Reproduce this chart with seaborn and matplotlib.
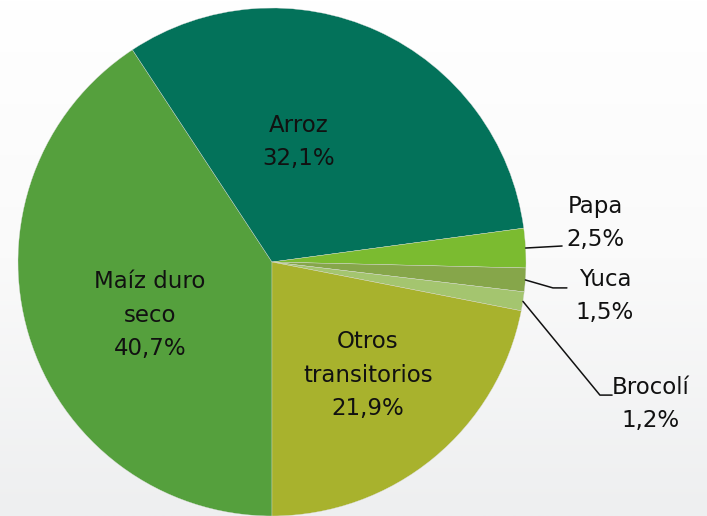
import numpy as np
import matplotlib
matplotlib.use("Agg")
import matplotlib.pyplot as plt
import seaborn as sns

# datos del gráfico
cultivos = ["Maíz duro\nseco", "Arroz", "Papa", "Yuca", "Brocolí", "Otros\ntransitorios"]
porcentajes = [40.7, 32.1, 2.5, 1.5, 1.2, 21.9]
colores = ["#55A03D", "#03725A", "#7BBB30", "#86A64A", "#A4C56F", "#A8B22D"]

sns.set_theme(style="white")
plt.rcParams["font.family"] = ["DejaVu Sans"]

fig = plt.figure(figsize=(7.07, 5.16), dpi=100)

# fondo degradado
bg = fig.add_axes([0, 0, 1, 1])
grad = np.linspace(0, 1, 256).reshape(-1, 1)
bg.imshow(grad, aspect="auto", cmap=matplotlib.colors.LinearSegmentedColormap.from_list(
    "bg", ["#FFFFFF", "#FAFAFA", "#EEEFF0"]), extent=[0, 1, 0, 1])
bg.axis("off")

ax = fig.add_axes([18 / 707, 0, 508 / 707, 508 / 516])
wedges, _ = ax.pie(porcentajes, colors=colores, startangle=-90, counterclock=False,
                   radius=1, wedgeprops=dict(edgecolor="#DDDDDD", linewidth=0.25))
ax.set_xlim(-1, 1)
ax.set_ylim(-1, 1)
ax.set_aspect("equal")
ax.axis("off")

fmt = lambda v: f"{v:.1f}".replace(".", ",") + "%"
fs = 16.5
ls = 1.58

# etiquetas internas
internas = {0: (-0.480, -0.209), 1: (0.106, 0.472), 5: (0.378, -0.445)}
for i, (x, y) in internas.items():
    ax.text(x, y, f"{cultivos[i]}\n{fmt(porcentajes[i])}", ha="center", va="center",
            fontsize=fs, color="#111111", linespacing=ls)

# etiquetas externas con líneas guía
externas = {
    2: ((1.272, 0.154), [(1.142, 0.063)]),
    3: ((1.311, -0.134), [(1.106, -0.102), (1.161, -0.102)]),
    4: ((1.492, -0.559), [(1.291, -0.524), (1.339, -0.524)]),
}
for i, ((tx, ty), pts) in externas.items():
    w = wedges[i]
    ang = np.deg2rad((w.theta1 + w.theta2) / 2)
    xs = [np.cos(ang)] + [p[0] for p in pts]
    ys = [np.sin(ang)] + [p[1] for p in pts]
    ax.plot(xs, ys, color="#111111", lw=1.1, clip_on=False)
    ax.text(tx, ty, f"{cultivos[i]}\n{fmt(porcentajes[i])}", ha="center", va="center",
            fontsize=fs, color="#111111", linespacing=ls)

fig.savefig("out.png", dpi=100)
